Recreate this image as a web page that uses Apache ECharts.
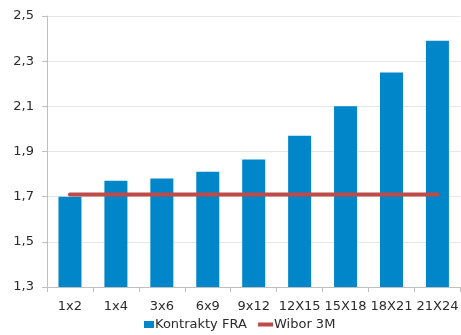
<!DOCTYPE html>
<html>
<head>
<meta charset="utf-8">
<script src="https://cdn.jsdelivr.net/npm/echarts@6/dist/echarts.min.js"></script>
<style>
  html, body { margin: 0; padding: 0; background: #fff; }
  #chart { width: 461px; height: 335px; }
</style>
</head>
<body>
<div id="chart"></div>
<script>
// FRA contract rates vs. the 3M WIBOR level
const categories = ['1x2', '1x4', '3x6', '6x9', '9x12', '12X15', '15X18', '18X21', '21X24'];
const fraValues = [1.70, 1.77, 1.78, 1.81, 1.865, 1.97, 2.10, 2.25, 2.39];
const wiborValues = [1.71, 1.71, 1.71, 1.71, 1.71, 1.71, 1.71, 1.71, 1.71];
const yTicks = { min: 1.3, max: 2.5, step: 0.2 };

const FONT = 'DejaVu Sans';
const TEXT = '#2b2b2b';

const chart = echarts.init(document.getElementById('chart'), null, { renderer: 'canvas' });

chart.setOption({
  animation: false,
  grid: { left: 47, top: 16, bottom: 48, right: -7, containLabel: false },
  legend: [
    {
      data: ['Kontrakty FRA'],
      left: 144, top: 318, padding: 0,
      icon: 'rect', itemWidth: 10, itemHeight: 7,
      textStyle: { fontFamily: FONT, fontSize: 13, color: TEXT, padding: [0, 0, 0, -4] }
    },
    {
      data: ['Wibor 3M'],
      left: 258, top: 318, padding: 0,
      icon: 'rect', itemWidth: 15, itemHeight: 4,
      textStyle: { fontFamily: FONT, fontSize: 13, color: TEXT, padding: [0, 0, 0, -4] }
    }
  ],
  xAxis: {
    type: 'category',
    data: categories,
    axisLine: { lineStyle: { color: '#BFBFBF', width: 1 } },
    axisTick: { show: true, length: 5, lineStyle: { color: '#BFBFBF' } },
    axisLabel: { fontFamily: FONT, fontSize: 13, color: TEXT, margin: 13, interval: 0 }
  },
  yAxis: {
    type: 'value',
    min: yTicks.min, max: yTicks.max, interval: yTicks.step,
    axisLine: { show: true, lineStyle: { color: '#BFBFBF', width: 1 } },
    axisTick: { show: true, length: 5, lineStyle: { color: '#BFBFBF' } },
    splitLine: { lineStyle: { color: '#E6E6E6', width: 1 } },
    axisLabel: {
      fontFamily: FONT, fontSize: 13, color: TEXT, margin: 13,
      formatter: v => v.toFixed(1).replace('.', ',')
    }
  },
  series: [
    {
      name: 'Kontrakty FRA',
      type: 'bar',
      data: fraValues,
      barWidth: 23,
      itemStyle: { color: '#0086C9' }
    },
    {
      name: 'Wibor 3M',
      type: 'line',
      data: wiborValues,
      symbol: 'none',
      lineStyle: { color: '#BE4B48', width: 4, cap: 'round' },
      itemStyle: { color: '#BE4B48' }
    }
  ]
});
</script>
</body>
</html>
